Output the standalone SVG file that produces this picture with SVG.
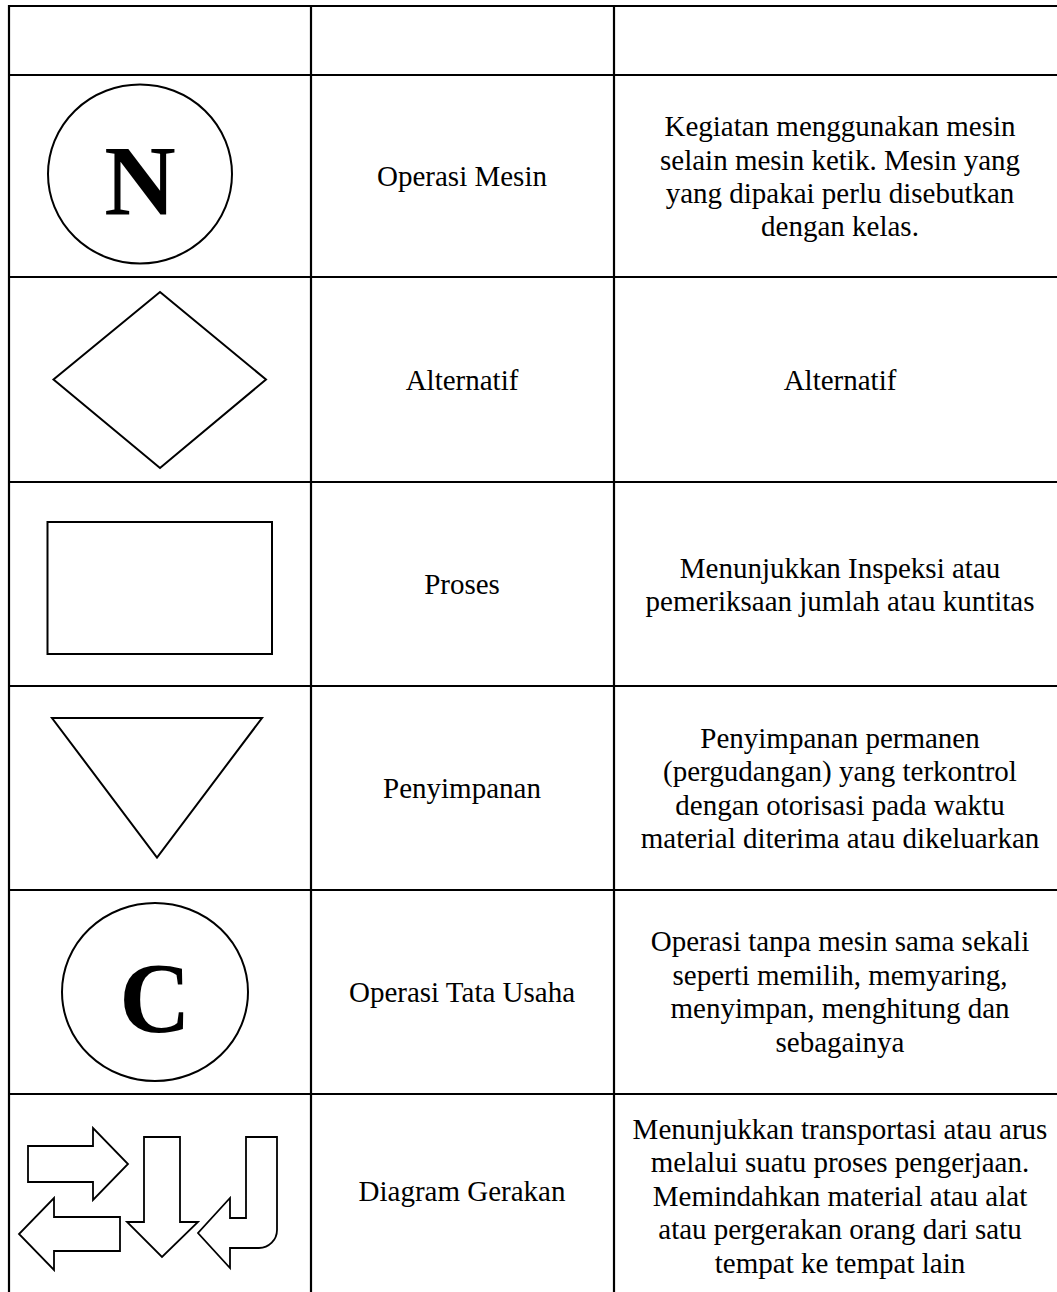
<svg xmlns="http://www.w3.org/2000/svg" width="1057" height="1292" viewBox="0 0 1057 1292">
<style>
.grid{stroke:#000;stroke-width:2.2;fill:none}
.shape{stroke:#000;stroke-width:2;fill:#fff}
.arrow{stroke:#000;stroke-width:1.8;fill:#fff;stroke-linejoin:miter}
.t{font-family:"Liberation Serif","Times New Roman",serif;font-size:29px;fill:#000;text-anchor:middle}
.big{font-family:"Liberation Serif","Times New Roman",serif;font-size:99px;font-weight:bold;fill:#000;text-anchor:middle}
</style>
<rect width="1057" height="1292" fill="#fff"/>
<g id="table">
<line class="grid" x1="8" y1="6" x2="1057" y2="6"/>
<line class="grid" x1="8" y1="75" x2="1057" y2="75"/>
<line class="grid" x1="8" y1="277" x2="1057" y2="277"/>
<line class="grid" x1="8" y1="482" x2="1057" y2="482"/>
<line class="grid" x1="8" y1="686" x2="1057" y2="686"/>
<line class="grid" x1="8" y1="890" x2="1057" y2="890"/>
<line class="grid" x1="8" y1="1094" x2="1057" y2="1094"/>
<line class="grid" x1="9" y1="5" x2="9" y2="1292"/>
<line class="grid" x1="311" y1="5" x2="311" y2="1292"/>
<line class="grid" x1="614" y1="5" x2="614" y2="1292"/>
</g>
<g id="row-operasi-mesin">
<ellipse class="shape" cx="140" cy="174" rx="92" ry="89.5"/>
<text class="big" x="140" y="214">N</text>
<text class="t" x="462" y="186">Operasi Mesin</text>
<text class="t" x="840" y="136">Kegiatan menggunakan mesin</text>
<text class="t" x="840" y="169.5">selain mesin ketik. Mesin yang</text>
<text class="t" x="840" y="203">yang dipakai perlu disebutkan</text>
<text class="t" x="840" y="236">dengan kelas.</text>
</g>
<g id="row-alternatif">
<polygon class="shape" points="160,292 266,379.5 160,468 53.5,379.5"/>
<text class="t" x="462" y="390">Alternatif</text>
<text class="t" x="840" y="390">Alternatif</text>
</g>
<g id="row-proses">
<rect class="shape" x="47.5" y="522" width="224.5" height="132" stroke-width="2.4"/>
<text class="t" x="462" y="594">Proses</text>
<text class="t" x="840" y="577.5">Menunjukkan Inspeksi atau</text>
<text class="t" x="840" y="611">pemeriksaan jumlah atau kuntitas</text>
</g>
<g id="row-penyimpanan">
<polygon class="shape" points="52,718 262,718 157,857.5"/>
<text class="t" x="462" y="798">Penyimpanan</text>
<text class="t" x="840" y="747.5">Penyimpanan permanen</text>
<text class="t" x="840" y="781">(pergudangan) yang terkontrol</text>
<text class="t" x="840" y="814.5">dengan otorisasi pada waktu</text>
<text class="t" x="840" y="848">material diterima atau dikeluarkan</text>
</g>
<g id="row-operasi-tata-usaha">
<ellipse class="shape" cx="155" cy="992" rx="93" ry="89"/>
<text class="big" x="155" y="1031">C</text>
<text class="t" x="462" y="1002">Operasi Tata Usaha</text>
<text class="t" x="840" y="951">Operasi tanpa mesin sama sekali</text>
<text class="t" x="840" y="984.5">seperti memilih, memyaring,</text>
<text class="t" x="840" y="1018">menyimpan, menghitung dan</text>
<text class="t" x="840" y="1051.5">sebagainya</text>
</g>
<g id="row-diagram-gerakan">
<path class="arrow" d="M28,1146 H93 V1128 L128,1164 L93,1200 V1182 H28 Z"/>
<path class="arrow" d="M120,1217 H54 V1198 L19,1234 L54,1270 V1251 H120 Z"/>
<path class="arrow" d="M144,1137 H180 V1222 H198 L162,1257 L127,1222 H144 Z"/>
<path class="arrow" d="M246,1137 H277 V1230 A18,18 0 0 1 259,1248 H230 V1268 L198,1233 L230,1198 V1218 H246 Z"/>
<text class="t" x="462" y="1201">Diagram Gerakan</text>
<text class="t" x="840" y="1138.5">Menunjukkan transportasi atau arus</text>
<text class="t" x="840" y="1172">melalui suatu proses pengerjaan.</text>
<text class="t" x="840" y="1205.5">Memindahkan material atau alat</text>
<text class="t" x="840" y="1239">atau pergerakan orang dari satu</text>
<text class="t" x="840" y="1272.5">tempat ke tempat lain</text>
</g>
</svg>
